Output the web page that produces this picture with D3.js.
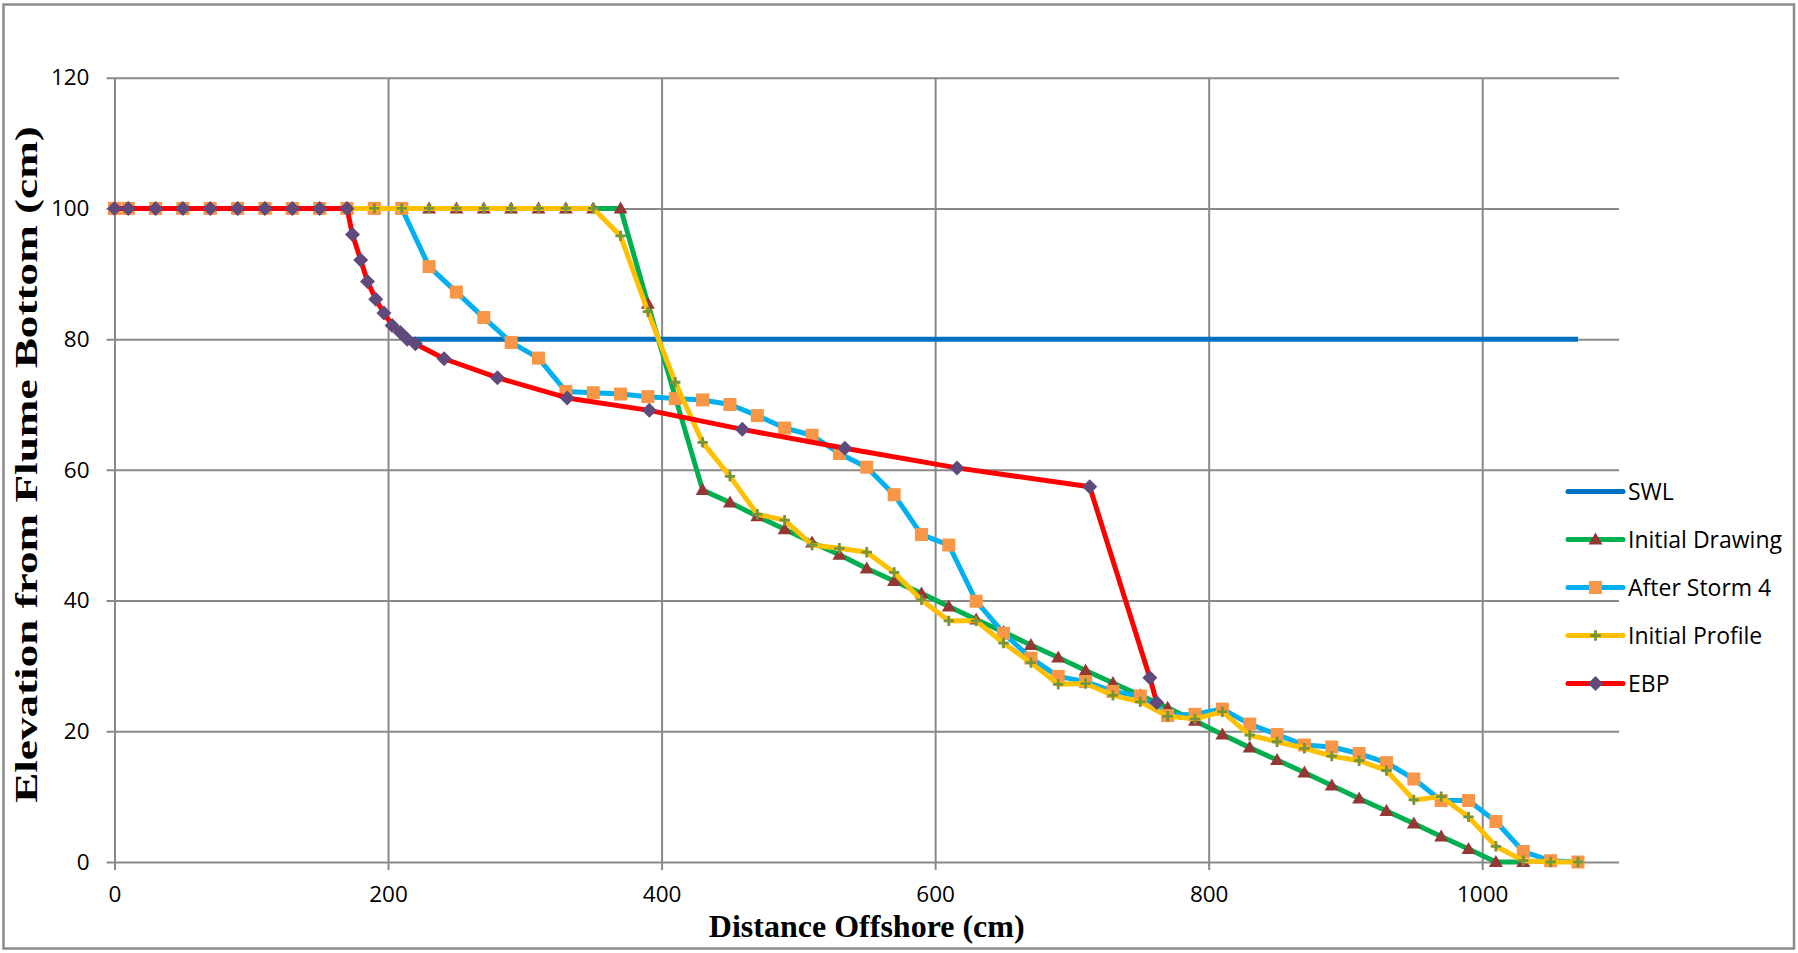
<!DOCTYPE html>
<html>
<head>
<meta charset="utf-8">
<script src="https://cdn.jsdelivr.net/npm/d3@7"></script>
<style>
  html, body { margin: 0; padding: 0; background: #ffffff; }
  svg { display: block; }
</style>
</head>
<body>
<svg id="chart" width="1798" height="953"></svg>
<script>
// ---- data -------------------------------------------------------------
const seriesNames = ["SWL", "Initial Drawing", "After Storm 4", "Initial Profile", "EBP"];

const xTicks = [0, 200, 400, 600, 800, 1000];
const yTicks = [0, 20, 40, 60, 80, 100, 120];

const swlX = [215, 1070];
const swlY = [80, 80];

const drawingX = [0, 10, 30, 50, 70, 90, 110, 130, 150, 170, 190, 210, 230, 250, 270, 290, 310, 330, 350, 370,
  390, 430, 450, 470, 490, 510, 530, 550, 570, 590, 610, 630, 650, 670, 690, 710, 730, 750, 770, 790,
  810, 830, 850, 870, 890, 910, 930, 950, 970, 990, 1010, 1030];
const drawingY = [100, 100, 100, 100, 100, 100, 100, 100, 100, 100, 100, 100, 100, 100, 100, 100, 100, 100, 100, 100,
  85.4, 56.9, 55.0, 52.9, 50.9, 48.9, 47.0, 44.9, 43.0, 41.1, 39.1, 37.1, 35.2, 33.2, 31.3, 29.3, 27.4, 25.5, 23.6, 21.6,
  19.5, 17.5, 15.6, 13.7, 11.7, 9.7, 7.8, 5.9, 3.9, 2.0, 0, 0];

const stormX = [0, 10, 30, 50, 70, 90, 110, 130, 150, 170, 190, 210, 230, 250, 270, 290, 310, 330, 350, 370,
  390, 410, 430, 450, 470, 490, 510, 530, 550, 570, 590, 610, 630, 650, 670, 690, 710, 730, 750, 770,
  790, 810, 830, 850, 870, 890, 910, 930, 950, 970, 990, 1010, 1030, 1050, 1070];
const stormY = [100, 100, 100, 100, 100, 100, 100, 100, 100, 100, 100, 100, 91.1, 87.2, 83.3, 79.5, 77.1, 72.0, 71.8, 71.6,
  71.2, 70.9, 70.7, 70.0, 68.3, 66.4, 65.3, 62.5, 60.4, 56.2, 50.1, 48.5, 39.9, 35.0, 31.2, 28.4, 27.6, 26.1, 25.4, 22.4,
  22.6, 23.4, 21.1, 19.5, 17.9, 17.6, 16.6, 15.2, 12.7, 9.4, 9.4, 6.2, 1.6, 0.2, 0];

const profileX = [0, 10, 30, 50, 70, 90, 110, 130, 150, 170, 190, 210, 230, 250, 270, 290, 310, 330, 350, 370,
  390, 410, 430, 450, 470, 490, 510, 530, 550, 570, 590, 610, 630, 650, 670, 690, 710, 730, 750, 770,
  790, 810, 830, 850, 870, 890, 910, 930, 950, 970, 990, 1010, 1030, 1050, 1070];
const profileY = [100, 100, 100, 100, 100, 100, 100, 100, 100, 100, 100, 100, 100, 100, 100, 100, 100, 100, 100, 95.8,
  84.2, 73.4, 64.2, 59.0, 53.2, 52.3, 48.5, 48.0, 47.4, 44.3, 40.1, 36.9, 36.9, 33.5, 30.5, 27.2, 27.3, 25.5, 24.5, 22.3,
  21.9, 23.0, 19.4, 18.4, 17.4, 16.2, 15.5, 14.0, 9.5, 10.0, 6.9, 2.4, 0.2, 0, 0];

const ebpX = [0, 10, 30, 50, 70, 90, 110, 130, 150, 170, 174, 180, 185, 191, 197, 203, 209, 214, 220, 241,
  280, 331, 391, 459, 534, 616, 713, 757, 762];
const ebpY = [100, 100, 100, 100, 100, 100, 100, 100, 100, 100, 96.0, 92.1, 88.8, 86.1, 84.0, 82.1, 81.0, 80.0, 79.3, 77.0,
  74.1, 71.0, 69.1, 66.2, 63.3, 60.3, 57.4, 28.2, 24.4];

// ---- layout -----------------------------------------------------------
const W = 1798, H = 953;
const plot = { left: 114.5, right: 1619, top: 77.7, bottom: 862 };
const gridColor = "#898989";

const x = d3.scaleLinear().domain([0, 1100]).range([plot.left, plot.right]);
const y = d3.scaleLinear().domain([0, 120]).range([plot.bottom, plot.top]);

const svg = d3.select("#chart");

// chart frame
svg.append("rect")
  .attr("x", 3.5).attr("y", 4.5).attr("width", W - 7.5).attr("height", H - 9)
  .attr("fill", "#ffffff").attr("stroke", "#8c8c8c").attr("stroke-width", 2.5);

// ---- axes & gridlines -------------------------------------------------
const yAxis = d3.axisLeft(y).tickValues(yTicks).tickFormat(d3.format("d"))
  .tickSize(plot.right - plot.left + 8).tickPadding(17);
const gY = svg.append("g")
  .attr("transform", `translate(${plot.right},0)`)
  .call(yAxis);
gY.select(".domain").remove();
gY.selectAll(".tick line").attr("stroke", gridColor).attr("stroke-width", 2);
gY.selectAll(".tick text")
  .attr("font-family", "'Open Sans', sans-serif").attr("font-size", 22.5).attr("fill", "#000");

const xAxis = d3.axisBottom(x).tickValues(xTicks).tickFormat(d3.format("d"))
  .tickSize(plot.bottom - plot.top + 8).tickPadding(16);
const gX = svg.append("g")
  .attr("transform", `translate(0,${plot.top})`)
  .call(xAxis);
gX.select(".domain").remove();
gX.selectAll(".tick line").attr("stroke", gridColor).attr("stroke-width", 2);
gX.selectAll(".tick text")
  .attr("font-family", "'Open Sans', sans-serif").attr("font-size", 22.5).attr("fill", "#000");

// ---- markers ----------------------------------------------------------
const markerPaths = {
  triangle: "M0,-7L7,5L-7,5Z",
  square: "M-6.5,-6.5H6.5V6.5H-6.5Z",
  plus: "M-5.2,0H5.2M0,-5.2V5.2",
  diamond: "M0,-7.5L7.5,0L0,7.5L-7.5,0Z"
};

const series = [
  { name: seriesNames[0], xs: swlX, ys: swlY, line: "#0070C0", marker: null },
  { name: seriesNames[1], xs: drawingX, ys: drawingY, line: "#00B050", marker: "triangle", mfill: "#953735" },
  { name: seriesNames[2], xs: stormX, ys: stormY, line: "#00B0F0", marker: "square", mfill: "#F79646" },
  { name: seriesNames[3], xs: profileX, ys: profileY, line: "#FFC000", marker: "plus", mstroke: "#77933C" },
  { name: seriesNames[4], xs: ebpX, ys: ebpY, line: "#FF0000", marker: "diamond", mfill: "#604A7B" }
];

function drawMarker(sel, s) {
  const p = sel.append("path").attr("d", markerPaths[s.marker]);
  if (s.marker === "plus") {
    p.attr("fill", "none").attr("stroke", s.mstroke).attr("stroke-width", 2.8);
  } else {
    p.attr("fill", s.mfill);
  }
}

const lineGen = d3.line().x(d => x(d[0])).y(d => y(d[1]));
const plotG = svg.append("g");

series.forEach(s => {
  const pts = s.xs.map((v, i) => [v, s.ys[i]]);
  const g = plotG.append("g");
  g.append("path")
    .datum(pts)
    .attr("d", lineGen)
    .attr("fill", "none")
    .attr("stroke", s.line)
    .attr("stroke-width", 5)
    .attr("stroke-linejoin", "round");
  if (s.marker) {
    g.selectAll("g.mk").data(pts).enter().append("g")
      .attr("class", "mk")
      .attr("transform", d => `translate(${x(d[0])},${y(d[1])})`)
      .each(function () { drawMarker(d3.select(this), s); });
  }
});

// ---- legend -----------------------------------------------------------
const legend = svg.append("g").attr("transform", "translate(1568,491.5)");
series.forEach((s, i) => {
  const row = legend.append("g").attr("transform", `translate(0,${i * 48})`);
  row.append("line").attr("x1", 0).attr("x2", 55).attr("y1", 0).attr("y2", 0)
    .attr("stroke", s.line).attr("stroke-width", 5).attr("stroke-linecap", "round");
  if (s.marker) {
    const m = row.append("g").attr("transform", "translate(27.5,0)");
    drawMarker(m, s);
  }
  row.append("text").attr("x", 60).attr("y", 8.3)
    .attr("font-family", "'Open Sans', sans-serif").attr("font-size", 23).attr("fill", "#000")
    .text(s.name);
});

// ---- axis titles ------------------------------------------------------
svg.append("text")
  .attr("x", (plot.left + plot.right) / 2).attr("y", 937)
  .attr("text-anchor", "middle")
  .attr("font-family", "'Liberation Serif', 'Times New Roman', serif")
  .attr("font-weight", "bold").attr("font-size", 32).attr("fill", "#000")
  .text("Distance Offshore (cm)");

const yTitle = svg.append("g").attr("transform", "translate(37,464.5) rotate(-90)");
const yText = yTitle.append("text")
  .attr("text-anchor", "middle")
  .attr("font-family", "'Liberation Serif', 'Times New Roman', serif")
  .attr("font-weight", "bold").attr("font-size", 32).attr("fill", "#000")
  .text("Elevation from Flume Bottom (cm)");
// stretch the rotated title along its length to span the axis
const natural = yText.node().getComputedTextLength();
yText.attr("transform", `scale(${677 / natural},1)`);
</script>
</body>
</html>
